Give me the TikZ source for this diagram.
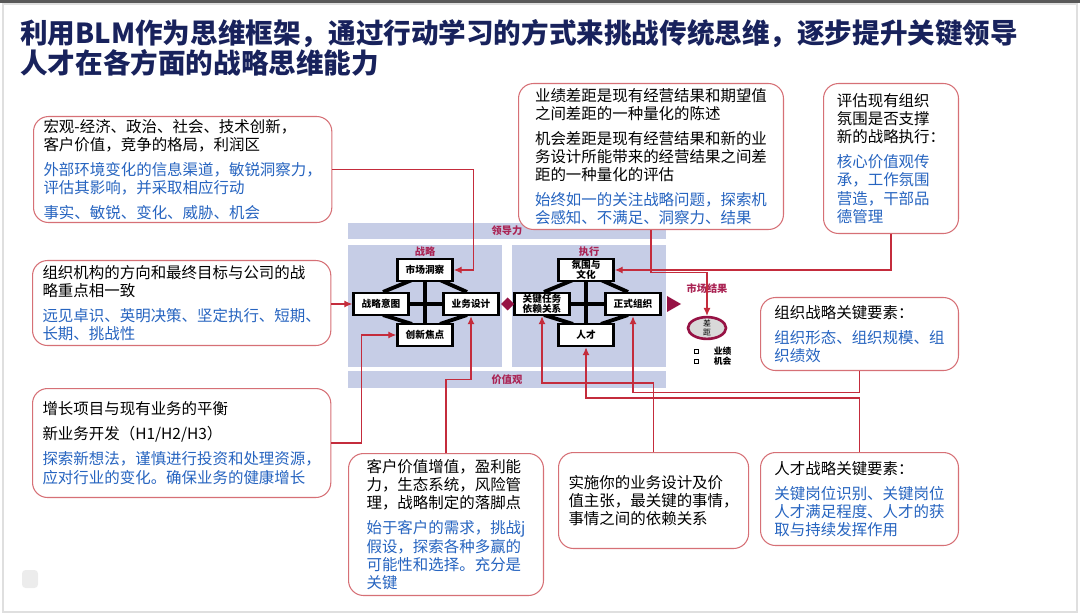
\documentclass[tikz,border=0pt]{standalone}
\usepackage{fontspec}
\setmainfont{Noto Sans CJK SC}
\usepackage{tikz}
\usetikzlibrary{arrows.meta,positioning,shapes.geometric}
\definecolor{notered}{RGB}{214,112,118}
\definecolor{linkred}{RGB}{196,44,60}
\definecolor{noteblue}{RGB}{38,100,192}
\definecolor{titleblue}{RGB}{24,34,92}
\definecolor{bandblue}{RGB}{198,205,230}
\definecolor{labelred}{RGB}{170,36,84}
\definecolor{markred}{RGB}{150,18,68}
\newcommand{\bl}[1]{\textcolor{noteblue}{#1}}

\begin{document}
\begin{tikzpicture}[x=0.02cm, y=-0.02cm,
    note/.style={draw=notered, line width=0.6pt, rounded corners=0.3cm, fill=white, anchor=north west,
      align=left, inner xsep=0.2cm, inner ysep=1pt, font=\fontsize{8.8}{10.3}\selectfont},
    cell/.style={draw, line width=1.5pt, fill=white, minimum width=1.1cm, minimum height=0.44cm,
      inner sep=0.5pt, align=center, font=\fontsize{5.5}{5.8}\selectfont\bfseries},
    tag/.style={text=labelred, font=\fontsize{5.8}{6}\selectfont\bfseries},
    bar/.style={line width=2.2pt},
    link/.style={draw=linkred, line width=0.6pt, -{Latex[length=4.5pt,width=4pt]}}]
  \useasboundingbox (0,0) rectangle (1080,615);
  \draw[gray!25, line width=0.6pt] (3,4) rectangle (1077,612);
  \fill[gray!70!black] (0,0) rectangle (1080,3);
  \fill[gray!15, rounded corners=2pt] (22,570) rectangle (38,588);

  % title
  \node[anchor=north west, align=left, inner sep=0, text=titleblue,
    font=\fontsize{15.7}{15.6}\selectfont\bfseries] (title) at (20,19)
    {利用BLM作为思维框架，通过行动学习的方式来挑战传统思维，逐步提升关键领导\\人才在各方面的战略思维能力};

  % bands and panels
  \fill[bandblue] (348,223) rectangle (666,239);
  \fill[bandblue] (348,245) rectangle (502,367);
  \fill[bandblue] (512,245) rectangle (666,367);
  \fill[bandblue] (348,371) rectangle (666,388);
  \node[tag] at (507,231) {领导力};
  \node[tag] at (425,252) {战略};
  \node[tag] at (589,252) {执行};
  \node[tag] at (507,380) {价值观};
  \node[tag] at (707,289) {市场结果};

  % strategy
  \draw[bar] (412,280) -- (383,292) (440,280) -- (467,292)
    (383,315) -- (412,324) (467,315) -- (440,324);
  \draw[bar] (425,280) -- (425,324) (409,304) -- (444,304);
  \node[cell] (insight) at (425,270) {市场洞察};
  \node[cell] (intent) at (381,304) {战略意图};
  \node[cell] (design) at (471,304) {业务设计};
  \node[cell] (innov) at (425,335) {创新焦点};

  % execution
  \draw[bar] (573,280) -- (544,292) (601,280) -- (628,292)
    (544,315) -- (573,324) (628,315) -- (601,324);
  \draw[bar] (586,280) -- (586,324) (569,304) -- (606,304);
  \node[cell] (culture) at (586,270) {氛围与\\文化};
  \node[cell] (keytask) at (542,304) {关键任务\\依赖关系};
  \node[cell] (formal) at (633,304) {正式组织};
  \node[cell] (people) at (586,335) {人才};

  \fill[markred] (501,304) -- (507.5,297.5) -- (514,304) -- (507.5,310.5) -- cycle;
  \fill[markred] (667,296) -- (681,304) -- (667,312) -- cycle;
  \node[draw=markred, line width=1.5pt, fill=gray!30, ellipse, minimum width=0.76cm, minimum height=0.38cm,
    inner sep=0pt, align=center, font=\fontsize{4.5}{4.8}\selectfont] (gapell) at (707,328) {差\\距};
  \node[draw, line width=0.5pt, fill=white, minimum size=0.08cm, inner sep=0pt] (sqa) at (696,351) {};
  \node[draw, line width=0.5pt, fill=white, minimum size=0.08cm, inner sep=0pt] (sqb) at (696,361) {};
  \node[right=0.3cm of sqa, inner sep=0pt, font=\fontsize{5}{5}\selectfont\bfseries] {业绩};
  \node[right=0.3cm of sqb, inner sep=0pt, font=\fontsize{5}{5}\selectfont\bfseries] {机会};

  % notes
  \node[note, minimum width=5.86cm, minimum height=2.12cm] (macro) at (33,116)
    {宏观-经济、政治、社会、技术创新，\\客户价值，竞争的格局，利润区\\[4pt]
     \bl{外部环境变化的信息渠道，敏锐洞察力，}\\\bl{评估其影响，并采取相应行动}\\[4pt]
     \bl{事实、敏锐、变化、威胁、机会}};
  \node[note, minimum width=5.86cm, minimum height=1.70cm] (goal) at (32,260)
    {组织机构的方向和最终目标与公司的战\\略重点相一致\\[4pt]
     \bl{远见卓识、英明决策、坚定执行、短期、}\\\bl{长期、挑战性}};
  \node[note, minimum width=5.86cm, minimum height=2.18cm] (growth) at (32,388)
    {增长项目与现有业务的平衡\\[4pt]
     新业务开发（H1/H2/H3）\\[4pt]
     \bl{探索新想法，谨慎进行投资和处理资源，}\\\bl{应对行业的变化。确保业务的健康增长}};
  \node[note, minimum width=3.90cm, minimum height=2.84cm] (cust) at (348,453)
    {客户价值增值，盈利能\\力，生态系统，风险管\\理，战略制定的落脚点\\[4pt]
     \bl{始于客户的需求，挑战j}\\\bl{假设，探索各种多赢的}\\\bl{可能性和选择。充分是}\\\bl{关键}};
  \node[note, minimum width=5.30cm, minimum height=2.92cm] (gap) at (518,83)
    {业绩差距是现有经营结果和期望值\\之间差距的一种量化的陈述\\[4pt]
     机会差距是现有经营结果和新的业\\务设计所能带来的经营结果之间差\\距的一种量化的评估\\[4pt]
     \bl{始终如一的关注战略问题，探索机}\\\bl{会感知、不满足、洞察力、结果}};
  \node[note, minimum width=2.70cm, minimum height=3.00cm] (climate) at (823,83)
    {评估现有组织\\氛围是否支撑\\新的战略执行：\\[4pt]
     \bl{核心价值观传}\\\bl{承，工作氛围}\\\bl{营造，干部品}\\\bl{德管理}};
  \node[note, minimum width=3.96cm, minimum height=1.46cm] (orgkey) at (760,297)
    {组织战略关键要素：\\[4pt]
     \bl{组织形态、组织规模、组}\\\bl{织绩效}};
  \node[note, minimum width=3.70cm, minimum height=1.92cm] (task) at (558,452)
    {实施你的业务设计及价\\值主张，最关键的事情，\\事情之间的依赖关系};
  \node[note, minimum width=3.96cm, minimum height=1.86cm] (talent) at (760,452)
    {人才战略关键要素：\\[4pt]
     \bl{关键岗位识别、关键岗位}\\\bl{人才满足程度、人才的获}\\\bl{取与持续发挥作用}};

  % connectors
  \draw[link] (macro.east) -| ([xshift=0.4cm]insight.east) -- (insight.east);
  \draw[link] (goal.east |- intent.west) -- (intent.west);
  \draw[link] (growth.east) -| ([xshift=-0.7cm]innov.west) -- (innov.west);
  \draw[link] (cust.north) |- ([yshift=-1.26cm]design.south) -- (design.south);
  \draw[link] (gap.south) |- ([yshift=0.87cm]gapell.north) -- (gapell.north);
  \draw[link] (climate.south) |- (culture.east);
  \draw[link] (orgkey.south) -- ++(0,21) -| (formal.south);
  \draw[link] (talent.north) -- ++(0,-54) -| (people.south);
  \draw[link] (task.north) -- ++(0,-69) -| (keytask.south);
\end{tikzpicture}
\end{document}
